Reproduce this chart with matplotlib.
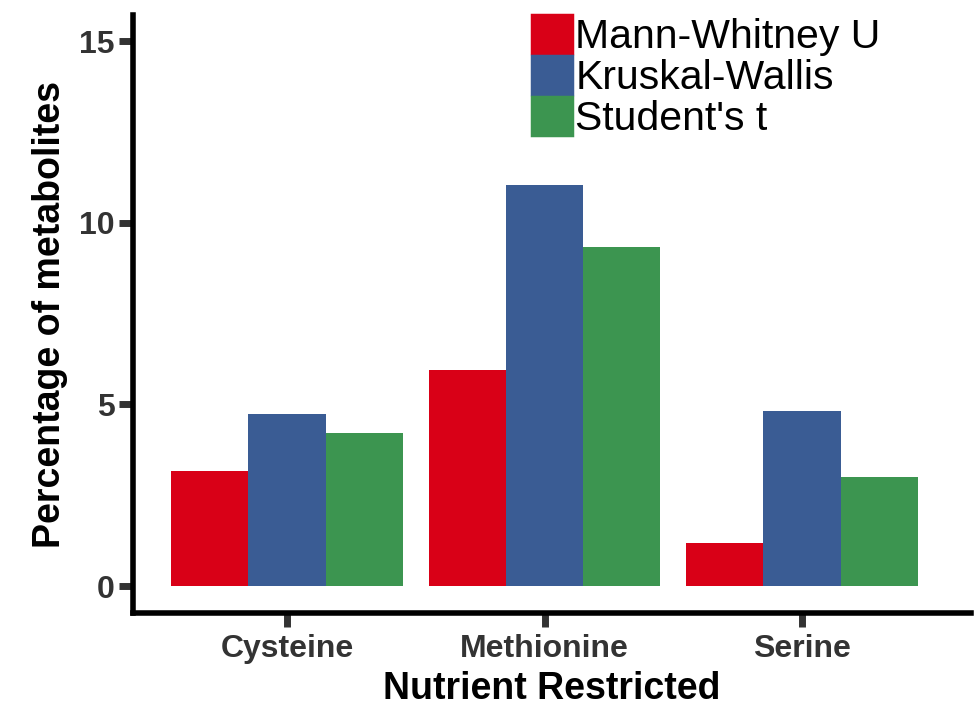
import numpy as np
import matplotlib
matplotlib.use("Agg")
import matplotlib.pyplot as plt

# data
nutrients = ["Cysteine", "Methionine", "Serine"]
tests = ["Mann-Whitney U", "Kruskal-Wallis", "Student's t"]
mann_whitney = [3.17, 5.95, 1.18]
kruskal_wallis = [4.73, 11.04, 4.82]
students_t = [4.21, 9.33, 3.00]
colors = ["#D90017", "#3A5C94", "#3C9550"]

plt.rcParams["font.family"] = ["Liberation Sans", "DejaVu Sans"]

fig = plt.figure(figsize=(9.78, 7.06), dpi=100)
ax = fig.add_axes([133 / 978, 93 / 706, 838 / 978, 598 / 706])

x = np.arange(len(nutrients))
w = 0.3
series = [mann_whitney, kruskal_wallis, students_t]
for i, vals in enumerate(series):
    ax.bar(x + (i - 1) * w, vals, width=w, color=colors[i], label=tests[i],
           linewidth=0)

ax.set_xlim(-0.598, 2.656)
ax.set_ylim(-0.743, 15.72)
ax.set_xticks(x)
ax.set_xticklabels(nutrients)
ax.set_yticks([0, 5, 10, 15])

for s in ["top", "right"]:
    ax.spines[s].set_visible(False)
for s in ["left", "bottom"]:
    ax.spines[s].set_linewidth(4)
    ax.spines[s].set_color("black")

ax.tick_params(axis="both", length=10, width=5, color="#333333",
               labelsize=23, labelcolor="#333333", pad=3)
ax.tick_params(axis="x", pad=5)
for lab in ax.get_xticklabels() + ax.get_yticklabels():
    lab.set_fontweight("bold")

ax.set_xlabel("Nutrient Restricted", fontsize=27, fontweight="bold", labelpad=5)
ax.set_ylabel("Percentage of metabolites", fontsize=27, fontweight="bold", labelpad=8)

leg = ax.legend(loc="upper left", bbox_to_anchor=(532 / 978, 1 - 15 / 706),
                bbox_transform=fig.transFigure, frameon=False, fontsize=29.5,
                handlelength=0.98, handleheight=1.06, labelspacing=0.0,
                handletextpad=0.08, borderpad=0, borderaxespad=0)
# close the small gaps between the legend keys
for p, c in zip(leg.get_patches(), colors):
    p.set_edgecolor(c)
    p.set_linewidth(2.5)

fig.savefig("out.png", dpi=100)
